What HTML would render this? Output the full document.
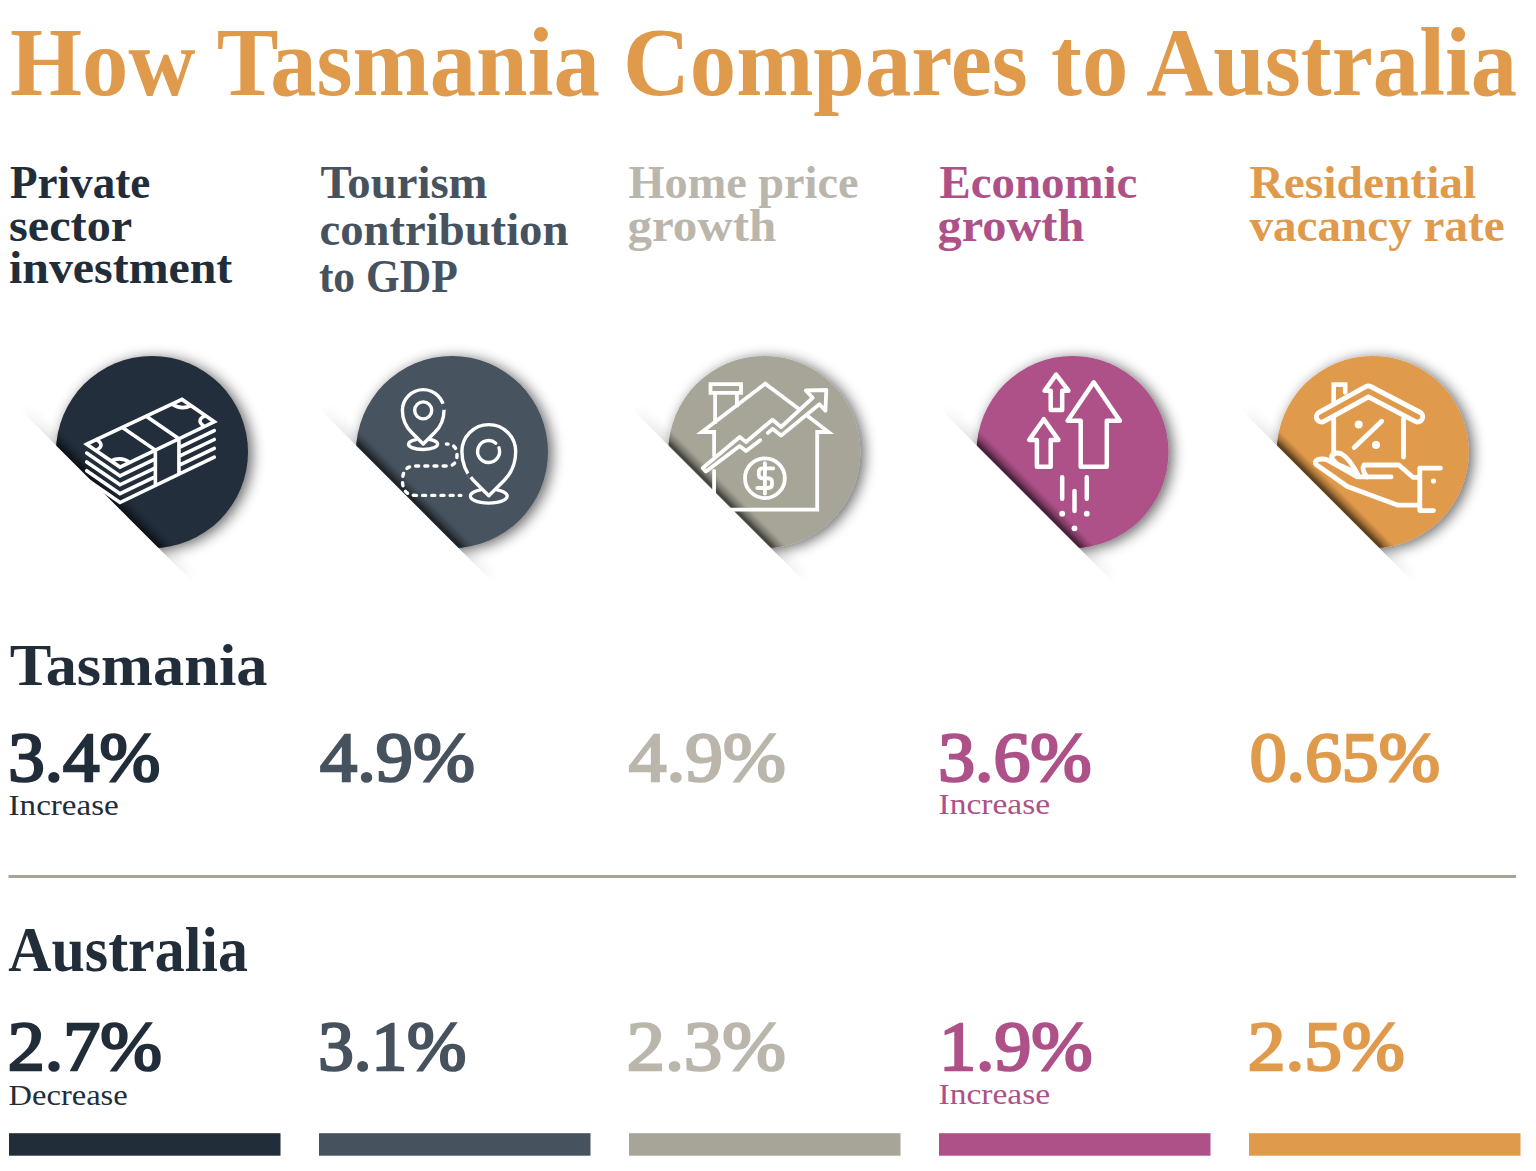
<!DOCTYPE html>
<html><head><meta charset="utf-8"><title>How Tasmania Compares to Australia</title>
<style>html,body{margin:0;padding:0;background:#fff;width:1536px;height:1171px;overflow:hidden}svg{display:block}</style>
</head><body>
<svg width="1536" height="1171" viewBox="0 0 1536 1171"><defs>
<filter id="ds" x="-30%" y="-30%" width="160%" height="160%"><feGaussianBlur in="SourceAlpha" stdDeviation="7"/><feOffset dx="4" dy="2" result="b"/><feComponentTransfer in="b" result="c"><feFuncA type="linear" slope="0.6"/></feComponentTransfer><feMerge><feMergeNode in="c"/><feMergeNode in="SourceGraphic"/></feMerge></filter>
<linearGradient id="fold" x1="0" y1="0" x2="0" y2="1"><stop offset="0" stop-color="#000" stop-opacity="0"/><stop offset="0.45" stop-color="#000" stop-opacity="0.2"/><stop offset="0.82" stop-color="#000" stop-opacity="0.52"/><stop offset="1" stop-color="#000" stop-opacity="0.45"/></linearGradient>
<linearGradient id="foldlen" x1="0" y1="0" x2="1" y2="0"><stop offset="0" stop-color="#fff" stop-opacity="0"/><stop offset="0.2" stop-color="#fff" stop-opacity="0.7"/><stop offset="0.8" stop-color="#fff" stop-opacity="0.7"/><stop offset="1" stop-color="#fff" stop-opacity="0"/></linearGradient>
<clipPath id="cc"><circle cx="0" cy="0" r="96"/></clipPath><linearGradient id="foldo" x1="0" y1="0" x2="0" y2="1"><stop offset="0" stop-color="#000" stop-opacity="0"/><stop offset="1" stop-color="#000" stop-opacity="0.16"/></linearGradient><mask id="mlen" maskContentUnits="userSpaceOnUse"><rect x="-124" y="30" width="245" height="40" fill="url(#foldlen)"/><rect x="-72" y="30" width="144" height="40" fill="#fff"/></mask>
</defs><rect width="1536" height="1171" fill="#fff"/><circle cx="152" cy="452" r="96" fill="#222D3A" filter="url(#ds)"/><g transform="translate(152,452) rotate(45)"><rect x="-124" y="49.3" width="245" height="14" fill="url(#foldo)" mask="url(#mlen)"/><rect x="-100" y="51.3" width="200" height="12" fill="url(#fold)" clip-path="url(#cc)"/></g><path d="M86.70,444.20 L182.00,399.40 L214.30,421.80 L120.00,467.10 Z M122.44,427.40 L155.36,450.11 M146.26,416.20 L178.94,438.79 M155.36,450.11 L155.36,485.51 M178.94,438.79 L178.94,474.19 M86.70,453.05 L120.00,475.95 L155.36,458.96 M178.94,447.64 L214.30,430.65 M86.70,461.90 L120.00,484.80 L155.36,467.81 M178.94,456.49 L214.30,439.50 M86.70,470.75 L120.00,493.65 L155.36,476.66 M178.94,465.34 L214.30,448.35 M86.70,479.60 L120.00,502.50 L214.30,457.20 M96.65,439.52 Q105.72,445.75 95.76,450.43 M110.94,460.87 Q120.89,456.19 129.95,462.42 M172.05,404.08 Q181.11,410.31 191.06,405.63 M205.24,415.57 Q195.28,420.25 204.35,426.48" fill="none" stroke="#fff" stroke-width="3.6" stroke-linecap="round" stroke-linejoin="miter"/><g transform="translate(152,452) rotate(45)"><rect x="-130" y="63.3" width="260" height="52" fill="#fff"/></g><circle cx="452" cy="452" r="96" fill="#47525F" filter="url(#ds)"/><g transform="translate(452,452) rotate(45)"><rect x="-124" y="49.3" width="245" height="14" fill="url(#foldo)" mask="url(#mlen)"/><rect x="-100" y="51.3" width="200" height="12" fill="url(#fold)" clip-path="url(#cc)"/></g><g fill="none" stroke="#fff" stroke-width="3.4" stroke-linecap="round" stroke-linejoin="round"><path d="M423.20,444.00 L434.70,432.50 C439.85,427.35 444.00,419.76 444.00,410.40 A20.80,20.80 0 0 0 402.40,410.40 C402.40,419.76 406.55,427.35 411.70,432.50 Z"/><circle cx="423.2" cy="410.4" r="8.5"/><path d="M488.80,495.70 L504.30,480.20 C510.96,473.54 515.70,463.61 515.70,451.50 A26.90,26.90 0 0 0 461.90,451.50 C461.90,463.61 466.64,473.54 473.30,480.20 Z"/><path d="M498.94,447.74 A11,11 0 1 1 495.82,443.20"/><path d="M429.90,439.51 A14.60,5.30 0 1 1 416.10,439.55"/><path d="M497.00,489.83 A18.50,7.00 0 1 1 480.50,489.84"/><path d="M446.4,444 Q457,444 457,455 Q457,466 447,466 L415,466 Q402.5,466 402.5,480.7 Q402.5,495.4 415.9,495.4 L460.8,495.4" pathLength="17" stroke-dasharray="0.33 0.67" stroke-dashoffset="0.165"/></g><g stroke="#47525F" stroke-width="5.5" stroke-linecap="butt" fill="none"><path d="M443.6,403.6 L445.2,409.6"/><path d="M468.6,472.9 L471.6,476.6"/></g><g transform="translate(452,452) rotate(45)"><rect x="-130" y="63.3" width="260" height="52" fill="#fff"/></g><circle cx="764.3" cy="452" r="96" fill="#A7A498" filter="url(#ds)"/><g transform="translate(764.3,452) rotate(45)"><rect x="-124" y="49.3" width="245" height="14" fill="url(#foldo)" mask="url(#mlen)"/><rect x="-100" y="51.3" width="200" height="12" fill="url(#fold)" clip-path="url(#cc)"/></g><g fill="none" stroke="#fff" stroke-width="3.8" stroke-linecap="round"><path d="M714.1,455.5 V432 H701.8 L765.2,383.7 L798,408.3 M807.6,416 L828.5,432 H817.2 V509.6 H714.1 V471" stroke-linejoin="miter"/><path d="M710.5,384.1 H741 V392.8 H710.5 Z M715.1,421.9 V392.8 M736.9,392.8 V405.3" stroke-linejoin="miter" stroke-linecap="square"/><path d="M767.9,432.9 L772.5,428.8 L781.1,435.6 L819.4,404.2 L825.4,410.6 L826.3,390 L805.8,390.5 L812.6,397.8 L781.1,427 L772.5,419.7 L746,442 L739.7,437 L702.7,468 L705.9,471.6 L739.7,446.1 L746,451.1 L760.2,440.2" stroke-linejoin="round"/><circle cx="764.9" cy="478.2" r="19.9"/><path d="M773.3,468.3 H762.5 Q758.8,468.3 758.8,472 V474.6 Q758.8,478.3 762.5,478.3 H768.2 Q772,478.3 772,482 V484.3 Q772,488 768.2,488 H757.3 M764.9,463.2 V493.5" stroke-linejoin="round"/></g><g transform="translate(764.3,452) rotate(45)"><rect x="-130" y="63.3" width="260" height="52" fill="#fff"/></g><circle cx="1072.5" cy="452" r="96" fill="#AE5189" filter="url(#ds)"/><g transform="translate(1072.5,452) rotate(45)"><rect x="-124" y="49.3" width="245" height="14" fill="url(#foldo)" mask="url(#mlen)"/><rect x="-100" y="51.3" width="200" height="12" fill="url(#fold)" clip-path="url(#cc)"/></g><g fill="none" stroke="#fff" stroke-width="4.5" stroke-linecap="round" stroke-linejoin="round"><path d="M1056.1,374.6 L1044.6,390.7 H1050.7 V409.9 H1062.2 V390.7 H1068.4 Z"/><path d="M1043.8,419.2 L1029.2,439.9 H1036.9 V466.8 H1050.7 V439.9 H1058.4 Z"/><path d="M1093.7,382.3 L1067.6,420.7 H1080.7 V466.8 H1106.8 V420.7 H1119.9 Z"/><path d="M1062.2,477.2 V498.7 M1074.5,491 V511 M1086.8,477.2 V498.7"/><g fill="#fff" stroke="none"><circle cx="1062.2" cy="513.7" r="2.9"/><circle cx="1086.8" cy="513.7" r="2.9"/><circle cx="1074.5" cy="528.3" r="2.9"/></g></g><g transform="translate(1072.5,452) rotate(45)"><rect x="-130" y="63.3" width="260" height="52" fill="#fff"/></g><circle cx="1372.7" cy="452" r="96" fill="#E09A4C" filter="url(#ds)"/><g transform="translate(1372.7,452) rotate(45)"><rect x="-124" y="49.3" width="245" height="14" fill="url(#foldo)" mask="url(#mlen)"/><rect x="-100" y="51.3" width="200" height="12" fill="url(#fold)" clip-path="url(#cc)"/></g><g fill="none" stroke="#fff" stroke-width="4.8" stroke-linecap="round" stroke-linejoin="round"><path d="M1333.7,402.5 V384.6 H1345.2 V392.4" stroke-width="4.6" stroke-linejoin="miter"/><path d="M1321.5,416.8 L1368.3,391.1 L1417.6,416.8" stroke-width="15.2"/><path d="M1321.5,416.8 L1368.3,391.1 L1417.6,416.8" stroke="#E09A4C" stroke-width="5.4"/><path d="M1333.7,419 V454.5 M1403.5,419 V457.1 M1354.2,447.5 L1381.7,421.2"/><g fill="#fff" stroke="none"><circle cx="1358.7" cy="424.4" r="4"/><circle cx="1376" cy="444.9" r="4"/><circle cx="1433.5" cy="481" r="2.6"/></g><path d="M1440.4,468.2 H1419.8 V510.6 H1433.5"/><path d="M1419.8,505.2 H1398 L1347.4,486.5 L1316.5,464.8 Q1313.5,461.5 1317.5,459.8 Q1322.5,458 1328.2,460.3 L1357.4,476.9 H1391.1"/><path d="M1419.8,477.3 H1413 L1398.9,465 H1364 Q1361,469.5 1367,476.9"/><path d="M1358.7,476.3 Q1349.5,458 1341,453.6 Q1333.5,451.5 1331.5,456.5 Q1333.5,463.5 1342.5,466.5 Q1350,469.5 1356,474"/></g><g transform="translate(1372.7,452) rotate(45)"><rect x="-130" y="63.3" width="260" height="52" fill="#fff"/></g><rect x="8.5" y="875" width="1507.5" height="3" fill="#A7A498"/><rect x="9" y="1133.2" width="271.5" height="22.5" fill="#222D3A"/><rect x="319" y="1133.2" width="271.5" height="22.5" fill="#47525F"/><rect x="629" y="1133.2" width="271.5" height="22.5" fill="#A7A498"/><rect x="939" y="1133.2" width="271.5" height="22.5" fill="#AE5189"/><rect x="1249" y="1133.2" width="271.5" height="22.5" fill="#E09A4C"/><text x="10.00" y="94.6" font-family='"Liberation Serif", serif' font-weight="700" font-size="97.74" fill="#E09A4C" stroke="#E09A4C" stroke-width="0.00" textLength="1507.00" lengthAdjust="spacingAndGlyphs">How Tasmania Compares to Australia</text><text x="10.00" y="198.2" font-family='"Liberation Serif", serif' font-weight="700" font-size="46.12" fill="#222D3A" stroke="#222D3A" stroke-width="0.00" textLength="140.30" lengthAdjust="spacingAndGlyphs">Private</text><text x="9.00" y="240.6" font-family='"Liberation Serif", serif' font-weight="700" font-size="46.12" fill="#222D3A" stroke="#222D3A" stroke-width="0.00" textLength="123.20" lengthAdjust="spacingAndGlyphs">sector</text><text x="9.00" y="282.9" font-family='"Liberation Serif", serif' font-weight="700" font-size="46.12" fill="#222D3A" stroke="#222D3A" stroke-width="0.00" textLength="223.30" lengthAdjust="spacingAndGlyphs">investment</text><text x="320.50" y="198" font-family='"Liberation Serif", serif' font-weight="700" font-size="46.12" fill="#47525F" stroke="#47525F" stroke-width="0.00" textLength="167.00" lengthAdjust="spacingAndGlyphs">Tourism</text><text x="319.50" y="245" font-family='"Liberation Serif", serif' font-weight="700" font-size="46.12" fill="#47525F" stroke="#47525F" stroke-width="0.00" textLength="248.90" lengthAdjust="spacingAndGlyphs">contribution</text><text x="318.90" y="291.8" font-family='"Liberation Serif", serif' font-weight="700" font-size="46.12" fill="#47525F" stroke="#47525F" stroke-width="0.00" textLength="138.90" lengthAdjust="spacingAndGlyphs">to GDP</text><text x="628.50" y="198" font-family='"Liberation Serif", serif' font-weight="700" font-size="46.12" fill="#BAB6AC" stroke="#BAB6AC" stroke-width="0.00" textLength="230.00" lengthAdjust="spacingAndGlyphs">Home price</text><text x="627.50" y="240.5" font-family='"Liberation Serif", serif' font-weight="700" font-size="46.12" fill="#BAB6AC" stroke="#BAB6AC" stroke-width="0.00" textLength="148.80" lengthAdjust="spacingAndGlyphs">growth</text><text x="939.50" y="198" font-family='"Liberation Serif", serif' font-weight="700" font-size="46.12" fill="#AE5189" stroke="#AE5189" stroke-width="0.00" textLength="197.70" lengthAdjust="spacingAndGlyphs">Economic</text><text x="937.50" y="240.5" font-family='"Liberation Serif", serif' font-weight="700" font-size="46.12" fill="#AE5189" stroke="#AE5189" stroke-width="0.00" textLength="146.80" lengthAdjust="spacingAndGlyphs">growth</text><text x="1249.50" y="198" font-family='"Liberation Serif", serif' font-weight="700" font-size="46.12" fill="#E09A4C" stroke="#E09A4C" stroke-width="0.00" textLength="226.80" lengthAdjust="spacingAndGlyphs">Residential</text><text x="1249.50" y="240.5" font-family='"Liberation Serif", serif' font-weight="700" font-size="46.12" fill="#E09A4C" stroke="#E09A4C" stroke-width="0.00" textLength="255.10" lengthAdjust="spacingAndGlyphs">vacancy rate</text><text x="9.80" y="684.7" font-family='"Liberation Serif", serif' font-weight="700" font-size="59.56" fill="#222D3A" stroke="#222D3A" stroke-width="0.00" textLength="257.60" lengthAdjust="spacingAndGlyphs">Tasmania</text><text x="8.20" y="970.8" font-family='"Liberation Serif", serif' font-weight="700" font-size="62.62" fill="#222D3A" stroke="#222D3A" stroke-width="0.00" textLength="239.80" lengthAdjust="spacingAndGlyphs">Australia</text><text x="8.20" y="780.5" font-family='"Liberation Serif", serif' font-weight="400" font-size="70.40" fill="#222D3A" stroke="#222D3A" stroke-width="2.5" textLength="152.00" lengthAdjust="spacingAndGlyphs">3.4%</text><text x="320.00" y="780.5" font-family='"Liberation Serif", serif' font-weight="400" font-size="70.40" fill="#47525F" stroke="#47525F" stroke-width="2.5" textLength="154.80" lengthAdjust="spacingAndGlyphs">4.9%</text><text x="628.80" y="780.5" font-family='"Liberation Serif", serif' font-weight="400" font-size="70.40" fill="#BAB6AC" stroke="#BAB6AC" stroke-width="2.5" textLength="157.00" lengthAdjust="spacingAndGlyphs">4.9%</text><text x="938.20" y="780.5" font-family='"Liberation Serif", serif' font-weight="400" font-size="70.40" fill="#AE5189" stroke="#AE5189" stroke-width="2.5" textLength="153.40" lengthAdjust="spacingAndGlyphs">3.6%</text><text x="1249.80" y="780.5" font-family='"Liberation Serif", serif' font-weight="400" font-size="70.40" fill="#E09A4C" stroke="#E09A4C" stroke-width="2.5" textLength="190.20" lengthAdjust="spacingAndGlyphs">0.65%</text><text x="7.80" y="1070" font-family='"Liberation Serif", serif' font-weight="400" font-size="70.40" fill="#222D3A" stroke="#222D3A" stroke-width="2.5" textLength="154.20" lengthAdjust="spacingAndGlyphs">2.7%</text><text x="318.20" y="1070" font-family='"Liberation Serif", serif' font-weight="400" font-size="70.40" fill="#47525F" stroke="#47525F" stroke-width="2.5" textLength="148.20" lengthAdjust="spacingAndGlyphs">3.1%</text><text x="626.80" y="1070" font-family='"Liberation Serif", serif' font-weight="400" font-size="70.40" fill="#BAB6AC" stroke="#BAB6AC" stroke-width="2.5" textLength="159.00" lengthAdjust="spacingAndGlyphs">2.3%</text><text x="939.20" y="1070" font-family='"Liberation Serif", serif' font-weight="400" font-size="70.40" fill="#AE5189" stroke="#AE5189" stroke-width="2.5" textLength="153.40" lengthAdjust="spacingAndGlyphs">1.9%</text><text x="1247.80" y="1070" font-family='"Liberation Serif", serif' font-weight="400" font-size="70.40" fill="#E09A4C" stroke="#E09A4C" stroke-width="2.5" textLength="157.00" lengthAdjust="spacingAndGlyphs">2.5%</text><text x="8.60" y="814.6" font-family='"Liberation Serif", serif' font-weight="400" font-size="29.93" fill="#222D3A" stroke="#222D3A" stroke-width="0.00" textLength="110.20" lengthAdjust="spacingAndGlyphs">Increase</text><text x="938.50" y="814.4" font-family='"Liberation Serif", serif' font-weight="400" font-size="29.93" fill="#AE5189" stroke="#AE5189" stroke-width="0.00" textLength="111.60" lengthAdjust="spacingAndGlyphs">Increase</text><text x="8.60" y="1104.6" font-family='"Liberation Serif", serif' font-weight="400" font-size="29.93" fill="#222D3A" stroke="#222D3A" stroke-width="0.00" textLength="119.10" lengthAdjust="spacingAndGlyphs">Decrease</text><text x="938.50" y="1103.5" font-family='"Liberation Serif", serif' font-weight="400" font-size="29.93" fill="#AE5189" stroke="#AE5189" stroke-width="0.00" textLength="111.60" lengthAdjust="spacingAndGlyphs">Increase</text></svg>
</body></html>
